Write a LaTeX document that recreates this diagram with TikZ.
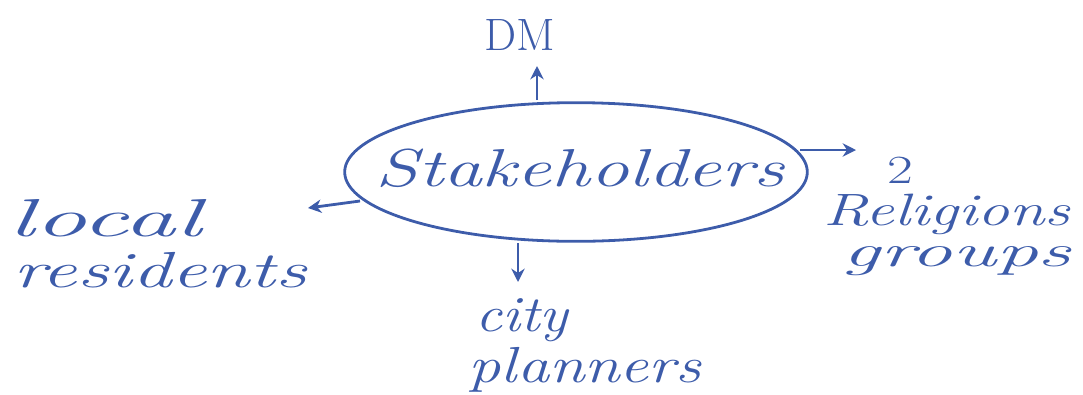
\documentclass[tikz,border=0pt]{standalone}
\usetikzlibrary{shapes.geometric,arrows.meta}
\definecolor{ink}{HTML}{3D5CAA}
\begin{document}
\begin{tikzpicture}[x=0.75pt,y=-0.75pt,
  inkline/.style={draw=ink,line width=2.1pt},
  arr/.style={inkline,-{Stealth[length=10pt,width=10pt]}},
  hand/.style={text=ink,font=\fontsize{38}{42}\selectfont\itshape,inner sep=0pt,anchor=base}]
\useasboundingbox (0,0) rectangle (1083,394);
\node[ellipse,inkline,minimum width=347pt,minimum height=104pt] (stake) at (576,172) {};
\node[hand,font=\fontsize{40}{44}\selectfont\itshape,xscale=1.45] (stxt) at (580,186) {Stakeholders};
\node[hand,font=\fontsize{34}{38}\selectfont,anchor=center] (dm) at (520,35) {DM};
\node[hand,font=\fontsize{30}{34}\selectfont,anchor=center,xscale=1.4] (two) at (900,170) {2};
\node[hand,font=\fontsize{34}{38}\selectfont\itshape,xscale=1.41] (rel) at (947,225) {Religions};
\node[hand,font=\fontsize{34}{38}\selectfont\itshape,xscale=1.84] (grp) at (957,266) {groups};
\node[hand,font=\fontsize{40}{44}\selectfont\itshape,xscale=1.95] (loc) at (105,236) {local};
\node[hand,xscale=1.55] (res) at (160,287) {residents};
\node[hand,xscale=1.18] (city) at (522,331) {city};
\node[hand,xscale=1.27] (pl) at (585,382) {planners};
\coordinate (tops) at (537,100);
\coordinate (topt) at (537,66);
\coordinate (rs) at (800,150);
\coordinate (rt) at (856,150);
\coordinate (ls) at (360,201);
\coordinate (lt) at (308,208);
\coordinate (bs) at (518,243);
\coordinate (bt) at (518,282);
\draw[arr] (tops) -- (topt);
\draw[arr] (rs) -- (rt);
\draw[arr] (ls) -- (lt);
\draw[arr] (bs) -- (bt);
\end{tikzpicture}
\end{document}
